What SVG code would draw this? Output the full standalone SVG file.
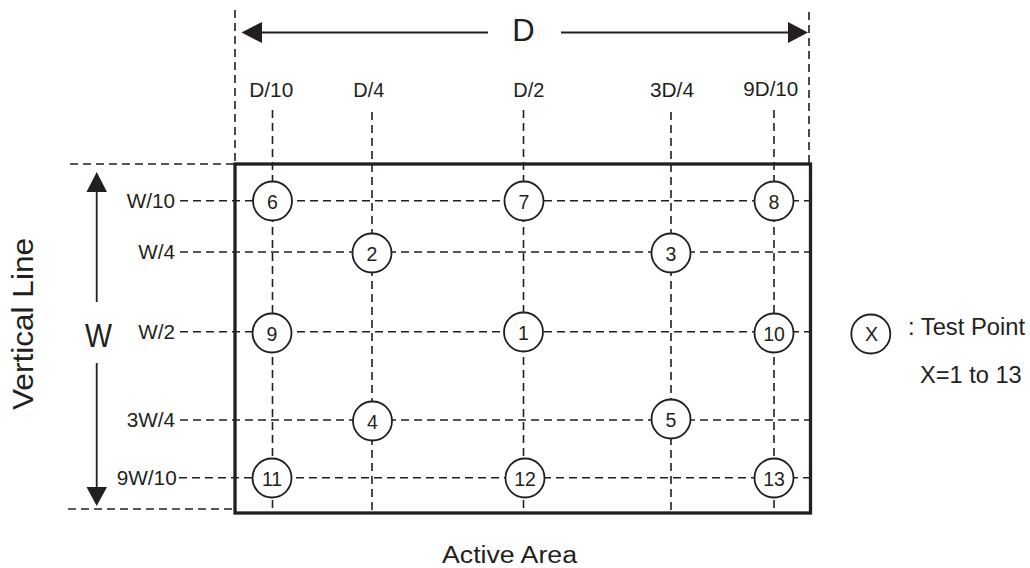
<svg xmlns="http://www.w3.org/2000/svg" width="1030" height="568" viewBox="0 0 1030 568">
<style>
text{font-family:"Liberation Sans",Arial,sans-serif;fill:#231f20}
.lbl{font-size:19.5px}
.big{font-size:23px}
.num{font-size:19.5px;text-anchor:middle}
.dash{stroke:#231f20;stroke-width:1.6;stroke-dasharray:8 5;fill:none}
.solid{stroke:#231f20;stroke-width:1.8;fill:none}
.pt{fill:#fff;stroke:#231f20;stroke-width:1.8}
.head{fill:#231f20}
</style>
<rect x="0" y="0" width="1030" height="568" fill="#fff"/>
<g id="connectors">
  <!-- dimension extension lines -->
  <line class="dash" x1="235" y1="10" x2="235" y2="164"/>
  <line class="dash" x1="809" y1="12" x2="809" y2="164"/>
  <line class="dash" x1="70" y1="164" x2="235" y2="164"/>
  <line class="dash" x1="68" y1="509" x2="235" y2="509"/>
  <!-- vertical grid lines -->
  <line class="dash" x1="272.5" y1="110" x2="272.5" y2="513"/>
  <line class="dash" x1="372" y1="112" x2="372" y2="513"/>
  <line class="dash" x1="523.5" y1="110" x2="523.5" y2="513"/>
  <line class="dash" x1="671" y1="112" x2="671" y2="513"/>
  <line class="dash" x1="774" y1="110" x2="774" y2="513"/>
  <!-- horizontal grid lines -->
  <line class="dash" x1="180" y1="200.7" x2="810" y2="200.7"/>
  <line class="dash" x1="180" y1="252" x2="810" y2="252"/>
  <line class="dash" x1="180" y1="331.7" x2="810" y2="331.7"/>
  <line class="dash" x1="180" y1="420" x2="810" y2="420"/>
  <line class="dash" x1="179" y1="477.7" x2="810" y2="477.7"/>
  <!-- D dimension arrow -->
  <line class="solid" x1="260" y1="32.5" x2="488" y2="32.5"/>
  <line class="solid" x1="561" y1="32.5" x2="790" y2="32.5"/>
  <polygon class="head" points="241.5,32.5 262,22 262,43"/>
  <polygon class="head" points="808,32.5 788,22 788,43"/>
  <!-- W dimension arrow -->
  <line class="solid" x1="96.7" y1="190" x2="96.7" y2="302"/>
  <line class="solid" x1="96.7" y1="363" x2="96.7" y2="489"/>
  <polygon class="head" points="96.7,172 86.5,192 107,192"/>
  <polygon class="head" points="96.7,506 86.5,487 107,487"/>
</g>
<g id="active-area">
  <rect x="235" y="164" width="575.5" height="349" fill="none" stroke="#231f20" stroke-width="3.3"/>
  <text class="big" x="442" y="563" textLength="135" lengthAdjust="spacingAndGlyphs">Active Area</text>
</g>
<g id="labels">
  <text x="523.5" y="41" font-size="31" text-anchor="middle">D</text>
  <text class="lbl" x="249.3" y="96.5" textLength="44" lengthAdjust="spacingAndGlyphs">D/10</text>
  <text class="lbl" x="353.3" y="96.5" textLength="31" lengthAdjust="spacingAndGlyphs">D/4</text>
  <text class="lbl" x="513.3" y="96.5" textLength="31" lengthAdjust="spacingAndGlyphs">D/2</text>
  <text class="lbl" x="650" y="96.5" textLength="44" lengthAdjust="spacingAndGlyphs">3D/4</text>
  <text class="lbl" x="743.3" y="96" textLength="55" lengthAdjust="spacingAndGlyphs">9D/10</text>
  <text class="lbl" x="126.7" y="207.5" textLength="48.3" lengthAdjust="spacingAndGlyphs">W/10</text>
  <text class="lbl" x="138.3" y="259" textLength="36.7" lengthAdjust="spacingAndGlyphs">W/4</text>
  <text class="lbl" x="138.3" y="338.7" textLength="36.7" lengthAdjust="spacingAndGlyphs">W/2</text>
  <text class="lbl" x="126.7" y="427.2" textLength="48.3" lengthAdjust="spacingAndGlyphs">3W/4</text>
  <text class="lbl" x="116.7" y="484.7" textLength="60" lengthAdjust="spacingAndGlyphs">9W/10</text>
  <text x="85" y="346.7" font-size="34" textLength="27" lengthAdjust="spacingAndGlyphs">W</text>
  <text x="33.3" y="324" font-size="30" text-anchor="middle" transform="rotate(-90 33.3 324)" textLength="172" lengthAdjust="spacingAndGlyphs">Vertical Line</text>
</g>
<g id="p6"><circle class="pt" cx="272.5" cy="201" r="19.5"/><text class="num" x="272.5" y="208.5">6</text></g>
<g id="p7"><circle class="pt" cx="524" cy="201" r="19.5"/><text class="num" x="524" y="208.5">7</text></g>
<g id="p8"><circle class="pt" cx="774" cy="201" r="19.5"/><text class="num" x="774" y="208.5">8</text></g>
<g id="p2"><circle class="pt" cx="372" cy="253" r="19.5"/><text class="num" x="372" y="260.5">2</text></g>
<g id="p3"><circle class="pt" cx="671" cy="253" r="19.5"/><text class="num" x="671" y="260.5">3</text></g>
<g id="p9"><circle class="pt" cx="272" cy="333" r="19.5"/><text class="num" x="272" y="340.5">9</text></g>
<g id="p1"><circle class="pt" cx="523.5" cy="332" r="19.5"/><text class="num" x="523.5" y="339.5">1</text></g>
<g id="p10"><circle class="pt" cx="774" cy="333" r="19.5"/><text class="num" x="774" y="340.5">10</text></g>
<g id="p4"><circle class="pt" cx="372.5" cy="421" r="19.5"/><text class="num" x="372.5" y="428.5">4</text></g>
<g id="p5"><circle class="pt" cx="671" cy="419" r="19.5"/><text class="num" x="671" y="426.5">5</text></g>
<g id="p11"><circle class="pt" cx="272" cy="478" r="19.5"/><text class="num" x="272" y="485.5">11</text></g>
<g id="p12"><circle class="pt" cx="525" cy="478" r="19.5"/><text class="num" x="525" y="485.5">12</text></g>
<g id="p13"><circle class="pt" cx="774" cy="478" r="19.5"/><text class="num" x="774" y="485.5">13</text></g>
<g id="legend">
  <circle class="pt" cx="870.8" cy="334" r="19.5"/>
  <text class="num" x="871.5" y="341" font-size="20.5">X</text>
  <text class="big" x="908" y="335" textLength="117" lengthAdjust="spacingAndGlyphs">: Test Point</text>
  <text class="big" x="920" y="383.3" textLength="101.7" lengthAdjust="spacingAndGlyphs">X=1 to 13</text>
</g>
</svg>
